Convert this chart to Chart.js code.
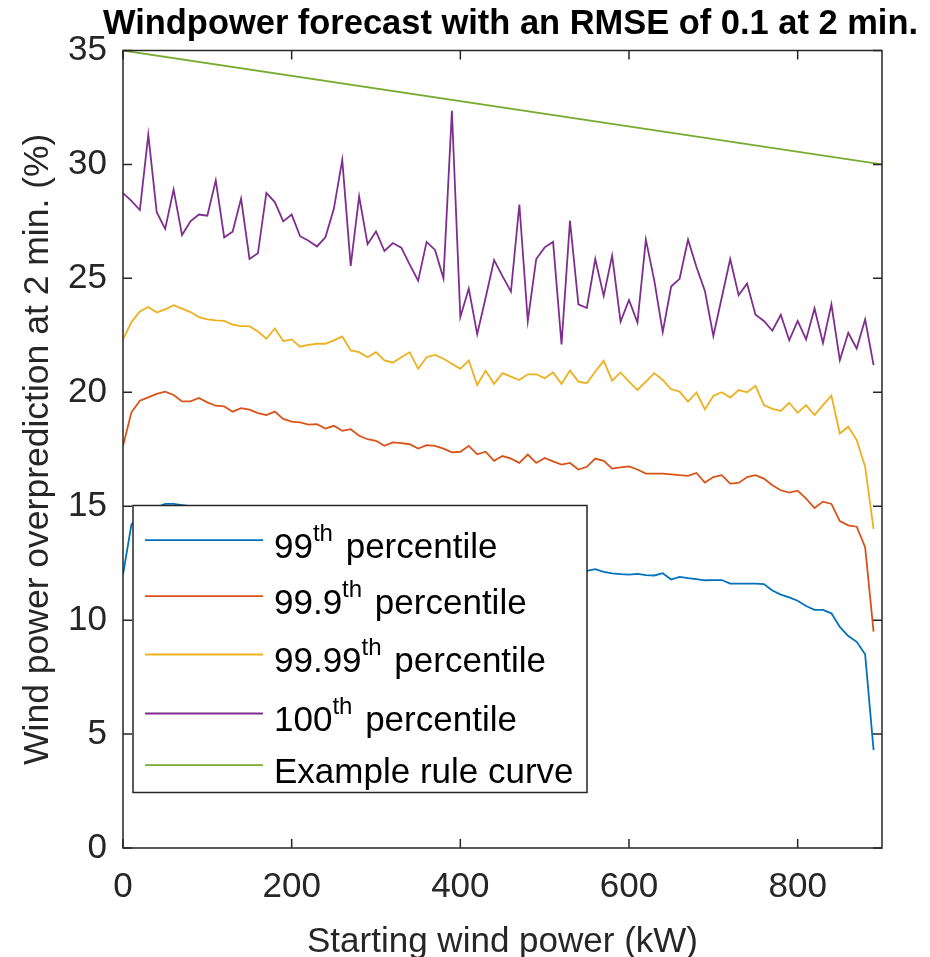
<!DOCTYPE html>
<html>
<head>
<meta charset="utf-8">
<script src="https://cdn.jsdelivr.net/npm/chart.js@4.4.1/dist/chart.umd.min.js"></script>
<style>
  html, body { margin: 0; padding: 0; background: #fff; }
  #wrap { width: 930px; height: 957px; }
</style>
</head>
<body>
<div id="wrap"><canvas id="chart" width="930" height="957"></canvas></div>
<script>
// starting wind power (kW)
const power = [0, 10, 20, 30, 40, 50, 60, 70, 80, 90,
  100, 110, 120, 130, 140, 150, 160, 170, 180, 190,
  200, 210, 220, 230, 240, 250, 260, 270, 280, 290,
  300, 310, 320, 330, 340, 350, 360, 370, 380, 390,
  400, 410, 420, 430, 440, 450, 460, 470, 480, 490,
  500, 510, 520, 530, 540, 550, 560, 570, 580, 590,
  600, 610, 620, 630, 640, 650, 660, 670, 680, 690,
  700, 710, 720, 730, 740, 750, 760, 770, 780, 790,
  800, 810, 820, 830, 840, 850, 860, 870, 880, 890];

const p99 = [12.0, 14.2, 14.6, 14.8, 14.95, 15.1, 15.1, 15.05, 15.0, 14.9,
  14.95, 14.8, 14.75, 14.7, 14.6, 14.55, 14.45, 14.4, 14.35, 14.2,
  14.15, 14.1, 14.0, 13.95, 13.9, 13.85, 13.7, 13.7, 13.6, 13.5,
  13.45, 13.4, 13.3, 13.3, 13.2, 13.15, 13.1, 13.05, 13.0, 12.9,
  12.85, 12.8, 12.75, 12.7, 12.65, 12.6, 12.55, 12.5, 12.45, 12.4,
  12.4, 12.35, 12.3, 12.25, 12.2, 12.16, 12.24, 12.12, 12.05, 12.02,
  12.0, 12.03, 11.98, 11.96, 12.06, 11.78, 11.9, 11.84, 11.8, 11.75,
  11.76, 11.76, 11.6, 11.6, 11.6, 11.6, 11.58, 11.3, 11.12, 11.0,
  10.85, 10.62, 10.45, 10.45, 10.3, 9.7, 9.3, 9.05, 8.5, 4.3];

const p999 = [17.65, 19.12, 19.63, 19.78, 19.93, 20.03, 19.88, 19.6, 19.6, 19.75,
  19.56, 19.41, 19.38, 19.15, 19.3, 19.24, 19.09, 19.0, 19.15, 18.83,
  18.71, 18.68, 18.58, 18.6, 18.41, 18.53, 18.31, 18.38, 18.09, 17.94,
  17.87, 17.65, 17.8, 17.77, 17.72, 17.53, 17.68, 17.65, 17.53, 17.36,
  17.39, 17.65, 17.28, 17.39, 16.99, 17.2, 17.09, 16.9, 17.27, 16.9,
  17.12, 16.97, 16.83, 16.9, 16.61, 16.73, 17.09, 16.99, 16.65, 16.7,
  16.75, 16.61, 16.43, 16.43, 16.43, 16.4, 16.36, 16.33, 16.46, 16.04,
  16.28, 16.36, 15.99, 16.02, 16.28, 16.36, 16.21, 15.92, 15.7, 15.6,
  15.68, 15.33, 14.92, 15.2, 15.1, 14.35, 14.16, 14.1, 13.2, 9.5];

const p9999 = [22.32, 23.08, 23.55, 23.74, 23.5, 23.64, 23.82, 23.67, 23.52, 23.3,
  23.2, 23.16, 23.13, 22.97, 22.9, 22.9, 22.67, 22.35, 22.8, 22.25,
  22.32, 22.0, 22.08, 22.13, 22.13, 22.28, 22.45, 21.84, 21.76, 21.54,
  21.76, 21.4, 21.3, 21.54, 21.76, 21.03, 21.54, 21.64, 21.47, 21.25,
  21.03, 21.4, 20.32, 20.95, 20.37, 20.84, 20.69, 20.54, 20.79, 20.79,
  20.62, 20.87, 20.37, 20.95, 20.47, 20.4, 20.91, 21.38, 20.51, 20.87,
  20.47, 20.1, 20.47, 20.84, 20.54, 20.13, 20.03, 19.59, 19.99, 19.25,
  19.84, 20.0, 19.77, 20.1, 20.0, 20.28, 19.44, 19.27, 19.18, 19.54,
  19.1, 19.44, 19.0, 19.44, 19.85, 18.19, 18.49, 17.9, 16.73, 14.0];

const p100 = [28.74, 28.4, 28.0, 31.3, 27.9, 27.17, 28.9, 26.9, 27.5, 27.8,
  27.75, 29.3, 26.8, 27.05, 28.5, 25.85, 26.1, 28.75, 28.35, 27.5,
  27.8, 26.85, 26.65, 26.4, 26.8, 28.05, 30.2, 25.55, 28.6, 26.5,
  27.06, 26.2, 26.55, 26.35, 25.6, 24.9, 26.6, 26.25, 25.0, 32.35,
  23.3, 24.55, 22.55, 24.15, 25.8, 25.1, 24.42, 28.24, 23.13, 25.85,
  26.36, 26.6, 22.1, 27.53, 23.86, 23.7, 25.85, 24.23, 26.0, 23.1,
  24.05, 23.06, 26.7, 24.9, 22.64, 24.64, 24.98, 26.7, 25.5, 24.45,
  22.47, 24.16, 25.85, 24.26, 24.77, 23.4, 23.13, 22.7, 23.4, 22.28,
  23.13, 22.32, 23.68, 22.16, 23.86, 21.41, 22.61, 21.92, 23.2, 21.19];

// example rule curve end points
const ruleX = [0, 900];
const ruleY = [35, 30];

const chartTitle = 'Windpower forecast with an RMSE of 0.1 at 2 min.';
const legendNumbers = ['99', '99.9', '99.99', '100', null];
const legendText = [' percentile', ' percentile', ' percentile', ' percentile', 'Example rule curve'];

const FONT = "'Liberation Sans', Arial, sans-serif";
const INK = '#262626';

function pts(xs, ys) {
  return xs.map((x, i) => ({ x: x, y: ys[i] }));
}

// frame with inward ticks on all sides, the legend box and the title
const frameAndLegend = {
  id: 'frameAndLegend',
  afterDatasetsDraw(chart) {
    const ctx = chart.ctx;
    const a = chart.chartArea;
    const xs = chart.scales.x, ys = chart.scales.y;
    ctx.save();
    ctx.strokeStyle = INK;
    ctx.lineWidth = 1.5;
    ctx.strokeRect(a.left, a.top, a.right - a.left, a.bottom - a.top);
    ctx.beginPath();
    xs.ticks.forEach(t => {
      const px = xs.getPixelForValue(t.value);
      ctx.moveTo(px, a.bottom); ctx.lineTo(px, a.bottom - 9);
      ctx.moveTo(px, a.top); ctx.lineTo(px, a.top + 9);
    });
    ys.ticks.forEach(t => {
      const py = ys.getPixelForValue(t.value);
      ctx.moveTo(a.left, py); ctx.lineTo(a.left + 9, py);
      ctx.moveTo(a.right, py); ctx.lineTo(a.right - 9, py);
    });
    ctx.stroke();

    // title, a bit wider than the plot box
    ctx.fillStyle = '#000';
    ctx.font = 'bold 35px ' + FONT;
    ctx.textAlign = 'center';
    ctx.textBaseline = 'alphabetic';
    ctx.fillText(chartTitle, (a.left + a.right) / 2 + 8, 34, 815);

    // legend
    const bx = a.left + 10, by = a.top + 455, bw = 454, bh = 287;
    ctx.fillStyle = '#fff';
    ctx.fillRect(bx, by, bw, bh);
    ctx.strokeRect(bx, by, bw, bh);
    const rows = [34.7, 90.7, 149, 208, 259.7];
    ctx.textAlign = 'left';
    chart.data.datasets.forEach((ds, i) => {
      const ry = by + rows[i];
      ctx.strokeStyle = ds.borderColor;
      ctx.lineWidth = 1.8;
      ctx.beginPath();
      ctx.moveTo(bx + 12, ry);
      ctx.lineTo(bx + 130, ry);
      ctx.stroke();
      const base = ry + 17.5;
      let tx = bx + 141;
      ctx.fillStyle = '#000';
      ctx.font = '35px ' + FONT;
      if (legendNumbers[i]) {
        ctx.fillText(legendNumbers[i], tx, base);
        tx += ctx.measureText(legendNumbers[i]).width;
        ctx.font = '24px ' + FONT;
        ctx.fillText('th', tx, base - 17);
        tx += ctx.measureText('th').width + 3;
        ctx.font = '35px ' + FONT;
      }
      ctx.fillText(legendText[i], tx, base);
    });
    ctx.restore();
  }
};

Chart.defaults.font.family = FONT;
Chart.defaults.color = INK;

new Chart(document.getElementById('chart'), {
  type: 'line',
  data: {
    datasets: [
      { label: '99th percentile', data: pts(power, p99), borderColor: '#0072BD' },
      { label: '99.9th percentile', data: pts(power, p999), borderColor: '#D95319' },
      { label: '99.99th percentile', data: pts(power, p9999), borderColor: '#EDB120' },
      { label: '100th percentile', data: pts(power, p100), borderColor: '#7E2F8E' },
      { label: 'Example rule curve', data: pts(ruleX, ruleY), borderColor: '#77AC30' }
    ]
  },
  options: {
    responsive: false,
    animation: false,
    devicePixelRatio: 1,
    layout: { padding: { left: 0, right: 48, top: 50.5, bottom: 0 } },
    elements: {
      point: { radius: 0 },
      line: { borderWidth: 1.8, tension: 0 }
    },
    plugins: {
      legend: { display: false },
      tooltip: { enabled: false },
      title: { display: false }
    },
    scales: {
      x: {
        type: 'linear',
        min: 0,
        max: 900,
        grid: { display: false, drawTicks: false },
        border: { display: false },
        ticks: { stepSize: 200, includeBounds: false, padding: 18, maxRotation: 0, font: { size: 35 }, color: INK },
        title: { display: true, text: 'Starting wind power (kW)', font: { size: 35, lineHeight: 1.0 }, color: INK, padding: { top: 0, bottom: -3 } },
        afterFit(scale) { scale.height = 109; }
      },
      y: {
        min: 0,
        max: 35,
        grid: { display: false, drawTicks: false },
        border: { display: false },
        ticks: { stepSize: 5, padding: 16, font: { size: 35 }, color: INK },
        title: { display: true, text: 'Wind power overprediction at 2 min. (%)', font: { size: 35.5 }, color: INK, padding: { top: 17, bottom: 0 } },
        afterFit(scale) { scale.width = 123; }
      }
    }
  },
  plugins: [frameAndLegend]
});
</script>
</body>
</html>
